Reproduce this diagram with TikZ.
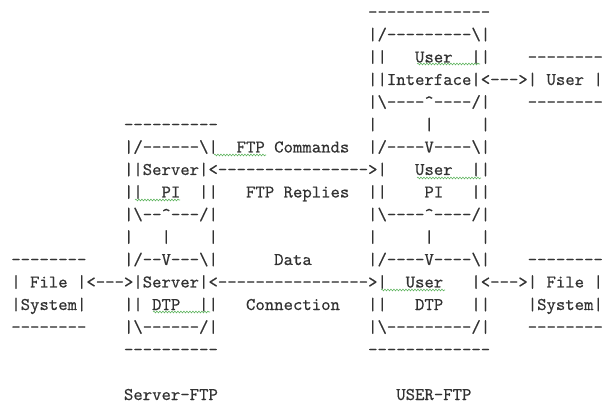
\documentclass[tikz,border=0pt]{standalone}
\usepackage{fontspec}
\newfontfamily\asc{lmmono10-regular.otf}[FakeBold=0.5]
\usetikzlibrary{decorations.pathmorphing}
\definecolor{txt}{RGB}{50,50,50}
\definecolor{spell}{RGB}{95,180,95}
\newcommand\D[1]{\ifnum#1>0 -\kern0pt\expandafter\D\expandafter{\the\numexpr#1-1\relax}\fi}
\newcommand\bs{\textbackslash}
\newcommand\ci{\textasciicircum}
\newcommand\seg[4]{\node[ascii] (#1) at ({11.3+(#2-6)*9.39},{17.5+22.5*#3}) {#4};}
\tikzset{
  ascii/.style={anchor=base west,inner sep=0pt,outer sep=0pt,text=txt,
    font=\asc\bfseries\fontsize{17.886pt}{20pt}\selectfont},
  spellmark/.style={draw=spell,line width=0.55pt,decorate,
    decoration={snake,amplitude=0.9pt,segment length=3pt}}
}
\begin{document}
\begin{tikzpicture}[x=1pt,y=-1pt]
\useasboundingbox (0,0) rectangle (605,403);
% User-FTP top: user interface
\seg{uiTop}{44}{0}{\D{13}}
\seg{uiA}{44}{1}{|/\D{9}\bs|}
\seg{uiB}{44}{2}{||~~~User~~||}
\seg{usrTop}{61}{2}{\D{8}}
\seg{uiC}{44}{3}{||Interface|<\D{3}>|~User~|}
\seg{uiD}{44}{4}{|\bs\D{4}\ci\D{4}/|}
\seg{usrBot}{61}{4}{\D{8}}
% row 5
\seg{spTop}{18}{5}{\D{10}}
\seg{uL5}{44}{5}{|~~~~~|~~~~~|}
% row 6
\seg{spA}{18}{6}{|/\D{6}\bs|}
\seg{cmd}{30}{6}{FTP~Commands}
\seg{upA}{44}{6}{|/\D{4}V\D{4}\bs|}
% row 7
\seg{piLink}{18}{7}{||Server|<\D{16}>|~~~User~~||}
% row 8
\seg{spB}{18}{8}{||~~PI~~||}
\seg{rep}{31}{8}{FTP~Replies}
\seg{upB}{44}{8}{||~~~~PI~~~||}
% row 9
\seg{spC}{18}{9}{|\bs\D{2}\ci\D{3}/|}
\seg{upC}{44}{9}{|\bs\D{4}\ci\D{4}/|}
% row 10
\seg{sL10}{18}{10}{|~~~|~~~~|}
\seg{uL10}{44}{10}{|~~~~~|~~~~~|}
% row 11
\seg{fsLTop}{6}{11}{\D{8}}
\seg{sdA}{18}{11}{|/\D{2}V\D{3}\bs|}
\seg{data}{34}{11}{Data}
\seg{udA}{44}{11}{|/\D{4}V\D{4}\bs|}
\seg{fsRTop}{61}{11}{\D{8}}
% row 12
\seg{dtpLink}{6}{12}{|~File~|<\D{3}>|Server|<\D{16}>|~~User~~~|<\D{3}>|~File~|}
% row 13
\seg{fsLB}{6}{13}{|System|}
\seg{sdB}{18}{13}{||~DTP~~||}
\seg{conn}{31}{13}{Connection}
\seg{udB}{44}{13}{||~~~DTP~~~||}
\seg{fsRB}{61}{13}{|System|}
% row 14
\seg{fsLBot}{6}{14}{\D{8}}
\seg{sdC}{18}{14}{|\bs\D{6}/|}
\seg{udC}{44}{14}{|\bs\D{9}/|}
\seg{fsRBot}{61}{14}{\D{8}}
% row 15
\seg{spBot}{18}{15}{\D{10}}
\seg{upBot}{44}{15}{\D{13}}
% labels
\seg{srvLabel}{18}{17}{Server-FTP}
\seg{usrLabel}{47}{17}{USER-FTP}
% spell-check marks
\draw[spellmark] (417,64) -- (480,64);
\draw[spellmark] (214,155) -- (266,155);
\draw[spellmark] (417,178) -- (481,178);
\draw[spellmark] (135,200) -- (180,200);
\draw[spellmark] (381,290) -- (445,290);
\draw[spellmark] (153,312) -- (210,312);
\end{tikzpicture}
\end{document}
